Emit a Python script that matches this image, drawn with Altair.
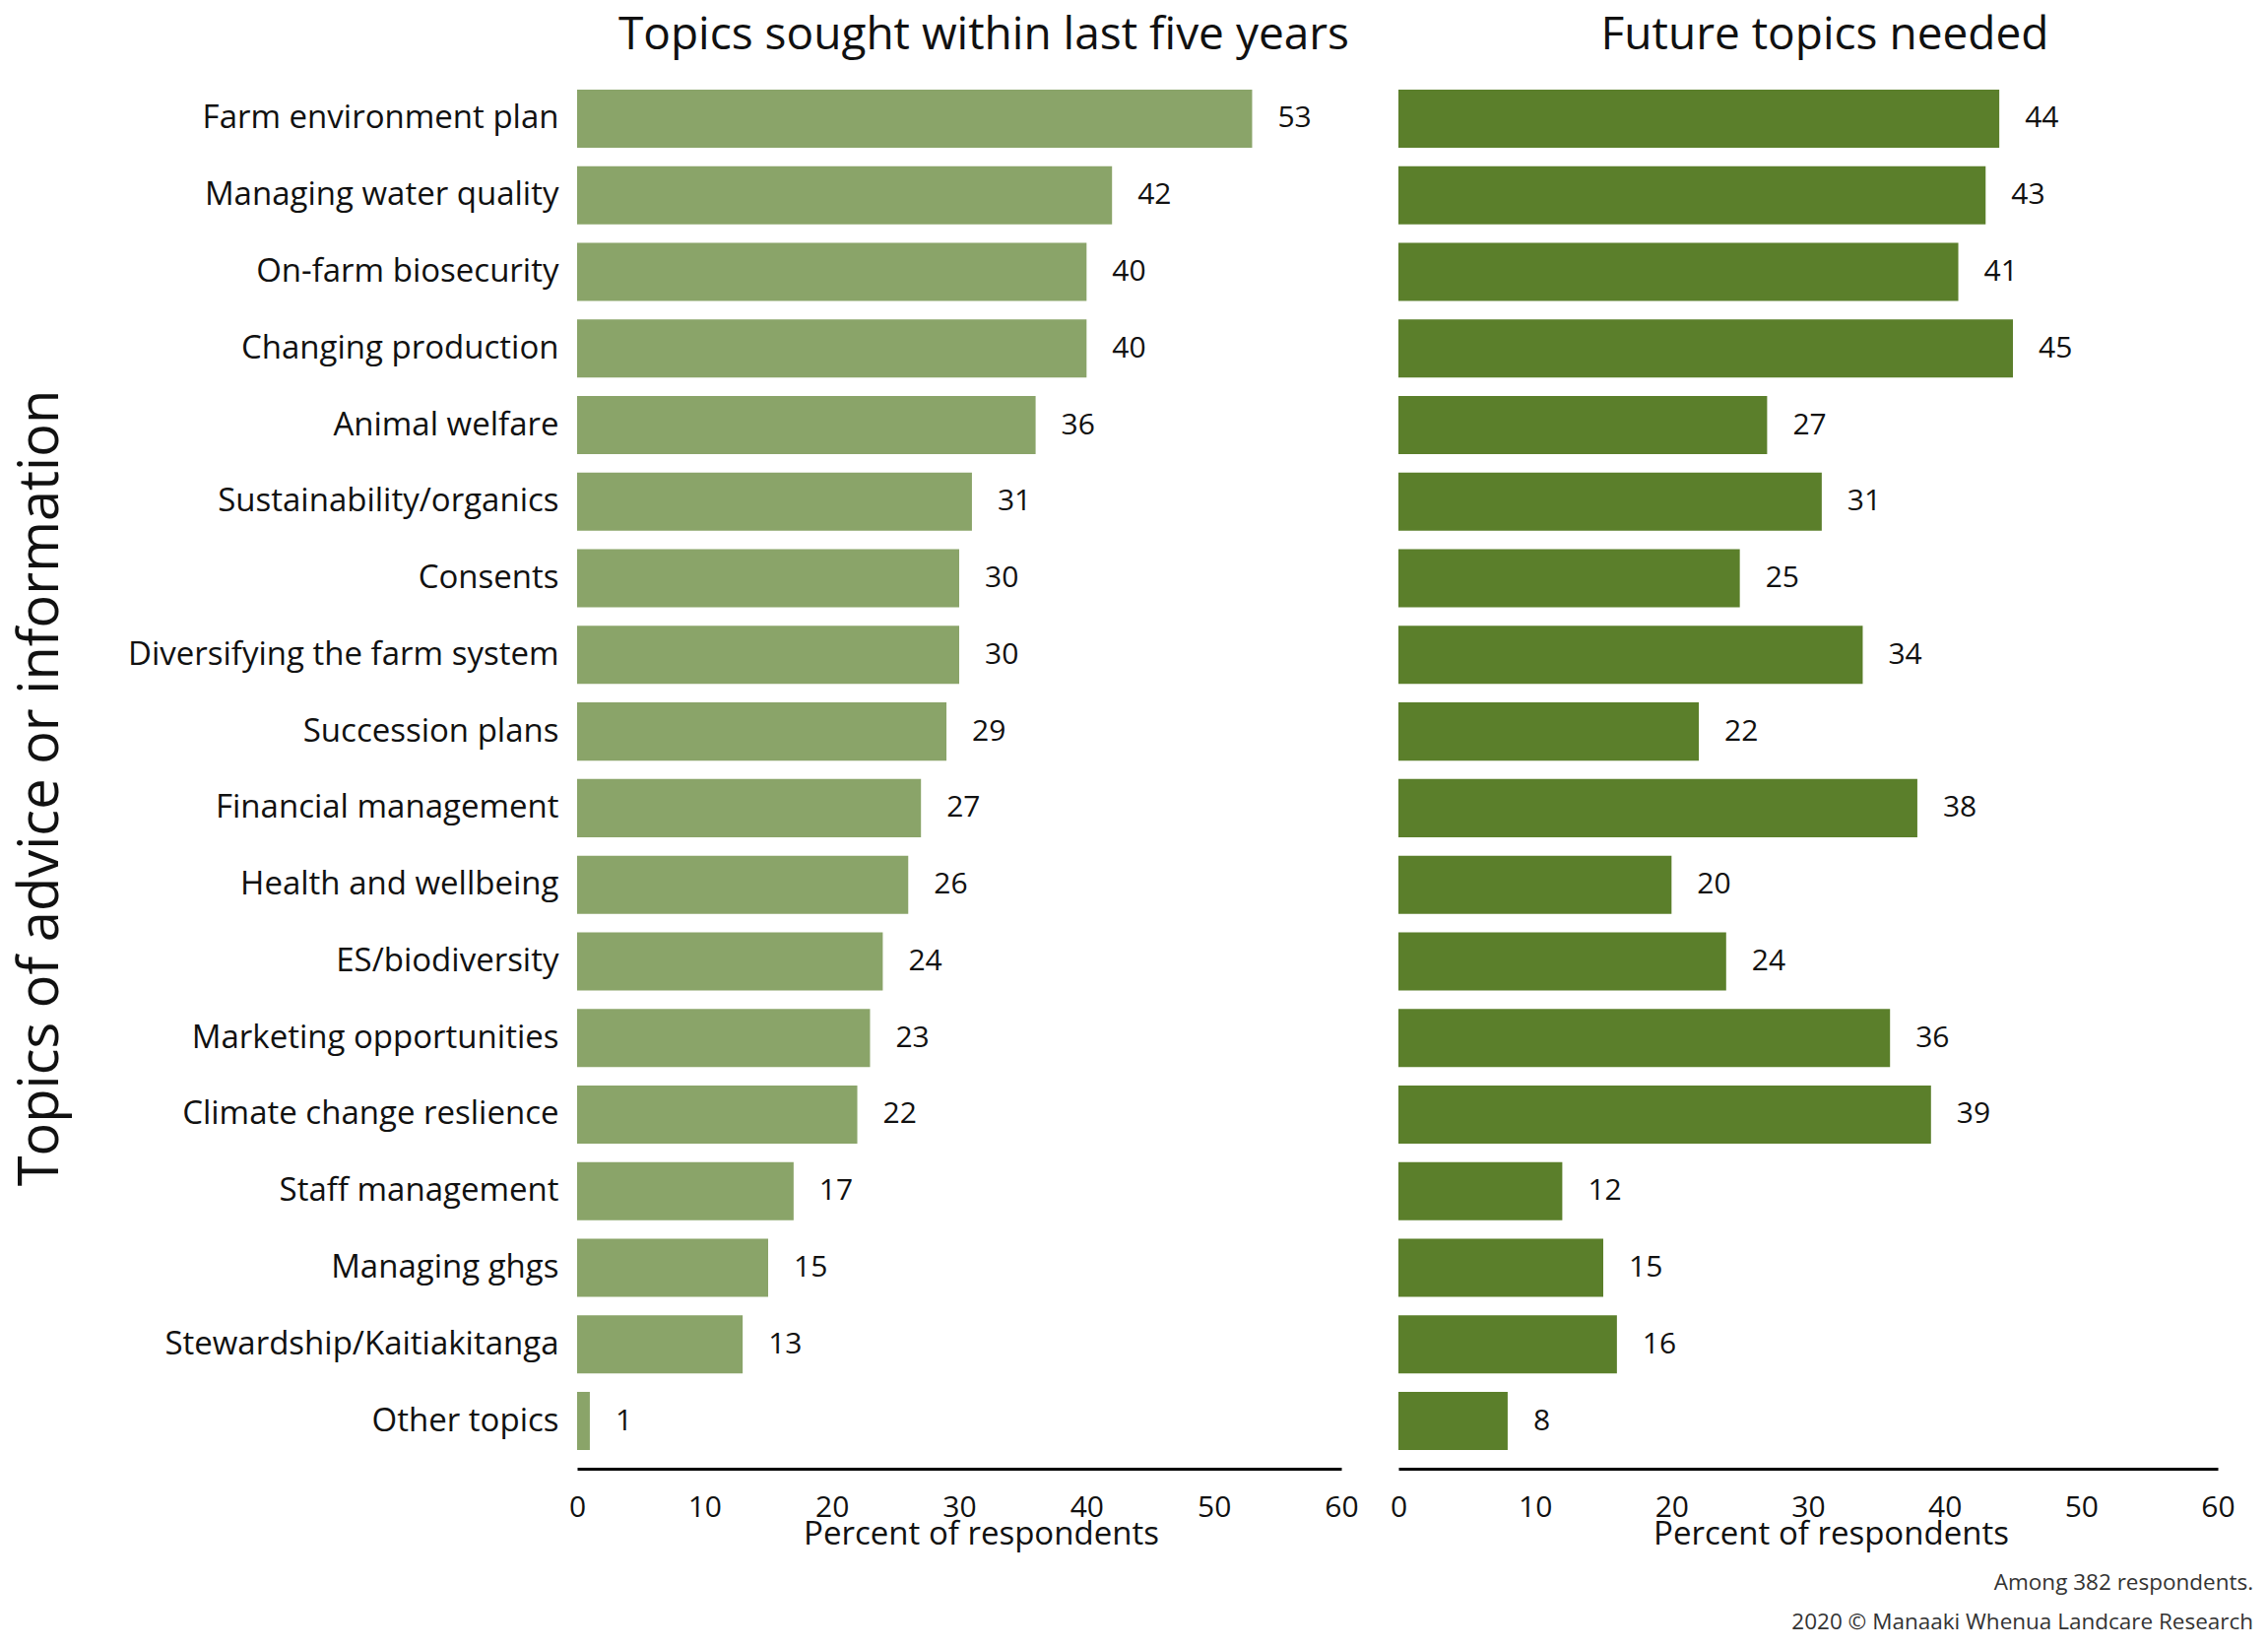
import altair as alt
import pandas as pd

topics = [
    "Farm environment plan", "Managing water quality", "On-farm biosecurity",
    "Changing production", "Animal welfare", "Sustainability/organics",
    "Consents", "Diversifying the farm system", "Succession plans",
    "Financial management", "Health and wellbeing", "ES/biodiversity",
    "Marketing opportunities", "Climate change reslience", "Staff management",
    "Managing ghgs", "Stewardship/Kaitiakitanga", "Other topics",
]
sought = [53, 42, 40, 40, 36, 31, 30, 30, 29, 27, 26, 24, 23, 22, 17, 15, 13, 1]
future = [44, 43, 41, 45, 27, 31, 25, 34, 22, 38, 20, 24, 36, 39, 12, 15, 16, 8]
ticks = [0, 10, 20, 30, 40, 50, 60]

df = pd.DataFrame({"topic": topics, "sought": sought, "future": future})

FONT = "Open Sans"
INK = "#111111"
PLOT_H = 1419


def panel(field, color, title, width, show_y, title_dx, axis_title_dx):
    yscale = alt.Scale(paddingInner=0.241, paddingOuter=0.244)
    if show_y:
        yaxis = alt.Axis(
            title="Topics of advice or information",
            titleFontSize=56, titleFontWeight="normal", titleFont=FONT,
            titleColor=INK, titlePadding=53, titleY=PLOT_H / 2 + 18,
            labelFontSize=33, labelFont=FONT, labelColor=INK,
            labelPadding=19, labelLimit=600,
            minExtent=463, maxExtent=463,
            domain=False, ticks=False, grid=False,
        )
    else:
        yaxis = None
    y = alt.Y("topic:N", sort=topics, scale=yscale, axis=yaxis)
    x = alt.X(
        f"{field}:Q",
        scale=alt.Scale(domain=[0, 60], nice=False, zero=True),
        axis=alt.Axis(
            values=ticks, title="Percent of respondents",
            titleFontSize=33, titleFontWeight="normal", titleFont=FONT,
            titleColor=INK, titlePadding=-4, titleX=width / 2 + axis_title_dx,
            labelFontSize=30, labelFont=FONT, labelColor=INK,
            labelPadding=24, labelFlush=False,
            domainColor="#000000", domainWidth=3,
            ticks=False, grid=False,
        ),
    )
    bars = alt.Chart(df).mark_bar(color=color).encode(x=x, y=y)
    labels = alt.Chart(df).mark_text(
        align="left", baseline="middle", dx=26, fontSize=30, font=FONT, color=INK
    ).encode(
        x=alt.X(f"{field}:Q"),
        y=alt.Y("topic:N", sort=topics),
        text=alt.Text(f"{field}:Q"),
    )
    return (bars + labels).properties(
        width=width,
        height=PLOT_H,
        title=alt.TitleParams(
            title, fontSize=46, fontWeight="normal", font=FONT, color=INK,
            anchor="middle", offset=12, dx=title_dx,
        ),
    )


left = panel("sought", "#8aa469", "Topics sought within last five years", 776, True, 25, 22)
right = panel("future", "#5b7f2b", "Future topics needed", 832, False, 17, 23)

chart = (
    alt.hconcat(left, right, spacing=58, bounds="flush")
    .properties(
        background="white",
        title=alt.TitleParams(
            ["Among 382 respondents.", "2020 \u00a9 Manaaki Whenua Landcare Research"],
            orient="bottom", anchor="end", fontSize=22.5, fontWeight="normal",
            font=FONT, color="#333333", lineHeight=40, offset=22, dx=19,
        ),
    )
    .configure_view(strokeWidth=0, stroke="transparent")
)

chart.save("out.html", embed_options={"renderer": "svg", "actions": False})
